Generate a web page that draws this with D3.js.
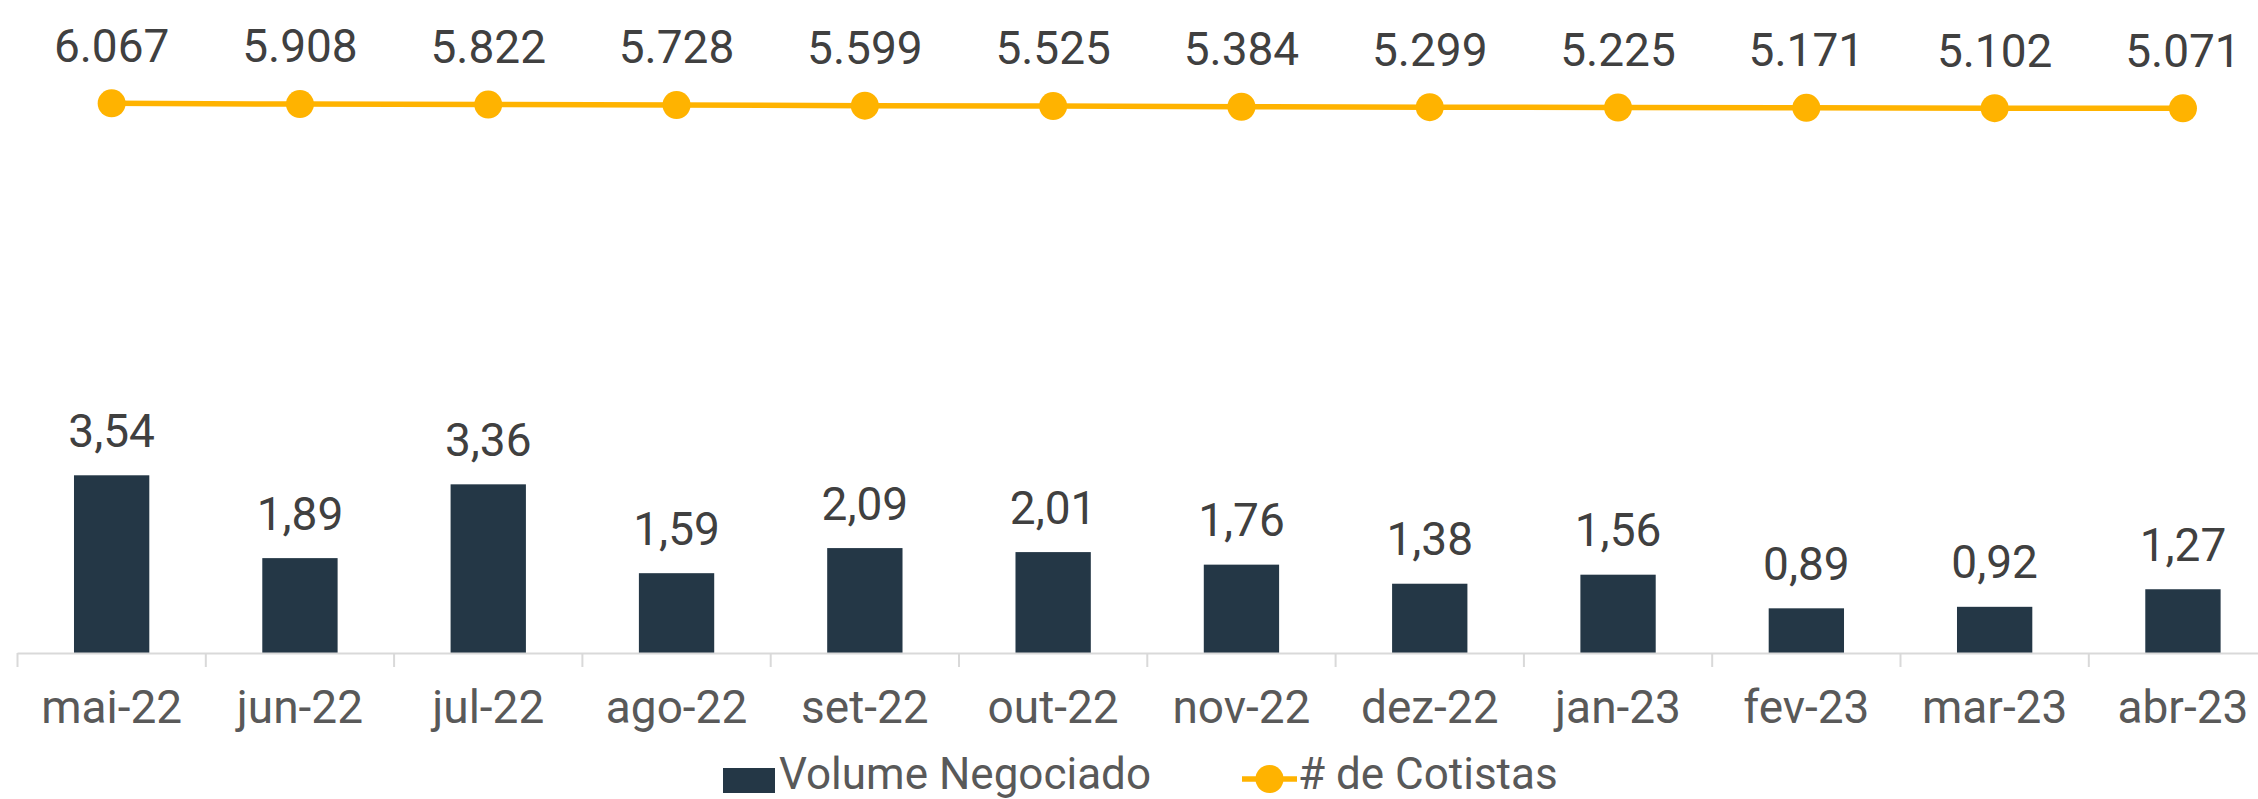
<!DOCTYPE html>
<html>
<head>
<meta charset="utf-8">
<script src="https://cdn.jsdelivr.net/npm/d3@7"></script>
<style>
  html, body { margin: 0; padding: 0; background: #ffffff; overflow: hidden; }
  svg { display: block; }
  text { font-family: Roboto, "Liberation Sans", sans-serif; }
</style>
</head>
<body>
<svg id="chart" width="2258" height="799"></svg>
<script>
// ---- data ----
const categories = ["mai-22","jun-22","jul-22","ago-22","set-22","out-22","nov-22","dez-22","jan-23","fev-23","mar-23","abr-23"];
const volumeNegociado = [3.54, 1.89, 3.36, 1.59, 2.09, 2.01, 1.76, 1.38, 1.56, 0.89, 0.92, 1.27];
const cotistas = [6067, 5908, 5822, 5728, 5599, 5525, 5384, 5299, 5225, 5171, 5102, 5071];
const seriesNames = ["Volume Negociado", "# de Cotistas"];

// ---- styles ----
const BAR_COLOR = "#243746";
const LINE_COLOR = "#FFB300";
const LABEL_COLOR = "#404040";
const AXIS_TEXT_COLOR = "#595959";
const AXIS_LINE_COLOR = "#D9D9D9";

const svg = d3.select("#chart");
const W = 2258, H = 799;

const x = d3.scaleBand()
  .domain(categories)
  .range([17.5, 17.5 + 12 * 188.3])
  .paddingInner(0.6)
  .paddingOuter(0.3);

const step = x.step();
const xLeft = 17.5;

// primary axis (bars)
const y = d3.scaleLinear().domain([0, 1]).range([653, 653 - 50.2]);
// secondary axis (line)
const y2 = d3.scaleLinear().domain([0, 6067]).range([133.8, 103.3]);

const fmtComma = v => d3.format(".2f")(v).replace(".", ",");
const fmtThousands = v => d3.format(",")(v).replace(/,/g, ".");

// bars
svg.append("g").selectAll("rect")
  .data(volumeNegociado)
  .join("rect")
  .attr("x", (d, i) => x(categories[i]))
  .attr("y", d => y(d))
  .attr("width", x.bandwidth())
  .attr("height", d => y(0) - y(d))
  .attr("fill", BAR_COLOR);

// category axis
const axisG = svg.append("g");
axisG.append("line")
  .attr("x1", xLeft).attr("x2", W)
  .attr("y1", 653.5).attr("y2", 653.5)
  .attr("stroke", AXIS_LINE_COLOR).attr("stroke-width", 2);
axisG.selectAll("line.tick")
  .data(d3.range(categories.length + 1))
  .join("line")
  .attr("class", "tick")
  .attr("x1", i => xLeft + i * step).attr("x2", i => xLeft + i * step)
  .attr("y1", 653).attr("y2", 667)
  .attr("stroke", AXIS_LINE_COLOR).attr("stroke-width", 2);
axisG.selectAll("text")
  .data(categories)
  .join("text")
  .attr("x", d => x(d) + x.bandwidth() / 2)
  .attr("y", 723)
  .attr("text-anchor", "middle")
  .attr("font-size", 46)
  .attr("fill", AXIS_TEXT_COLOR)
  .text(d => d);

// bar labels
svg.append("g").selectAll("text")
  .data(volumeNegociado)
  .join("text")
  .attr("x", (d, i) => x(categories[i]) + x.bandwidth() / 2)
  .attr("y", d => y(d) - 28.5)
  .attr("text-anchor", "middle")
  .attr("font-size", 46)
  .attr("fill", LABEL_COLOR)
  .text(d => fmtComma(d));

// line
const cx = i => x(categories[i]) + x.bandwidth() / 2;
const line = d3.line().x((d, i) => cx(i)).y(d => y2(d));
svg.append("path")
  .datum(cotistas)
  .attr("d", line)
  .attr("fill", "none")
  .attr("stroke", LINE_COLOR)
  .attr("stroke-width", 5.5);
svg.append("g").selectAll("circle")
  .data(cotistas)
  .join("circle")
  .attr("cx", (d, i) => cx(i))
  .attr("cy", d => y2(d))
  .attr("r", 14)
  .attr("fill", LINE_COLOR);
svg.append("g").selectAll("text")
  .data(cotistas)
  .join("text")
  .attr("x", (d, i) => cx(i))
  .attr("y", d => y2(d) - 41.6)
  .attr("text-anchor", "middle")
  .attr("font-size", 46)
  .attr("fill", LABEL_COLOR)
  .text(d => fmtThousands(d));

// legend
const lg = svg.append("g").attr("transform", "translate(0,-4)");
lg.append("rect")
  .attr("x", 723).attr("y", 772).attr("width", 52).attr("height", 25)
  .attr("fill", BAR_COLOR);
lg.append("text")
  .attr("x", 779).attr("y", 793)
  .attr("font-size", 44)
  .attr("fill", AXIS_TEXT_COLOR)
  .text(seriesNames[0]);
lg.append("line")
  .attr("x1", 1242).attr("x2", 1297)
  .attr("y1", 783).attr("y2", 783)
  .attr("stroke", LINE_COLOR).attr("stroke-width", 5.5);
lg.append("circle")
  .attr("cx", 1269.5).attr("cy", 783).attr("r", 14)
  .attr("fill", LINE_COLOR);
lg.append("text")
  .attr("x", 1298).attr("y", 793)
  .attr("font-size", 44)
  .attr("fill", AXIS_TEXT_COLOR)
  .text(seriesNames[1]);
</script>
</body>
</html>
